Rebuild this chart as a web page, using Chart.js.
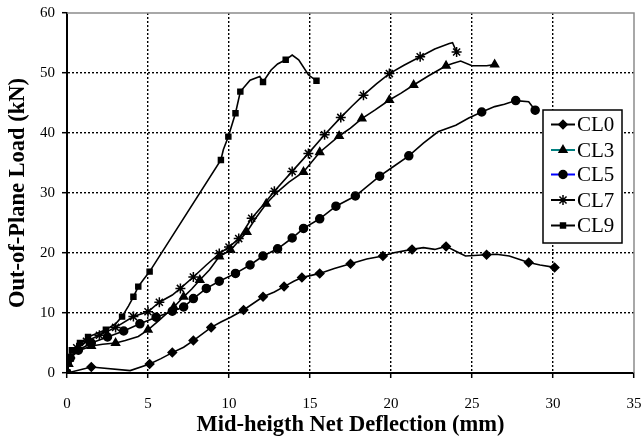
<!DOCTYPE html>
<html><head><meta charset="utf-8">
<script src="https://cdn.jsdelivr.net/npm/chart.js@4/dist/chart.umd.min.js"></script>
<style>html,body{margin:0;padding:0;background:#fff}</style>
</head><body>
<canvas id="c" width="644" height="441" style="display:block;width:644px;height:441px"></canvas>
<script>
const seriesNames = ['CL0','CL3','CL5','CL7','CL9'];
const xTickValues = [0,5,10,15,20,25,30,35];
const yTickValues = [0,10,20,30,40,50,60];

const CL0_x = [0,1.5,3.9,5.1,5.8,6.5,7.2,7.8,8.9,9.5,10.1,10.9,12.1,12.8,13.4,14.0,14.5,15.6,16.5,17.5,18.5,19.5,20.1,21.3,22.0,22.7,23.4,24.0,24.6,25.9,26.5,27.3,28.5,29.2,30.1];
const CL0_y = [0,1.0,0.4,1.5,2.4,3.4,4.3,5.4,7.6,8.5,9.3,10.5,12.7,13.5,14.4,15.3,15.9,16.6,17.4,18.2,19.0,19.5,20.0,20.6,20.9,20.6,21.1,20.3,19.5,19.7,19.8,19.5,18.4,18.0,17.6];
const CL0_m = [1,1,0,1,0,1,0,1,1,0,0,1,1,0,1,0,1,1,0,1,0,1,0,1,0,0,1,0,0,1,0,0,1,0,1];

const CL3_x = [0,0.1,0.3,0.8,1.5,2.2,3.0,3.6,4.4,5.0,5.7,6.6,7.2,7.7,8.2,8.8,9.4,10.1,10.6,11.1,11.7,12.3,13.0,13.7,14.6,15.6,16.8,17.5,18.2,19.0,19.9,20.6,21.4,22.3,23.4,23.8,24.3,25.0,25.9,26.4];
const CL3_y = [0,1.5,2.8,3.8,4.5,4.8,5.0,5.4,6.1,7.2,8.8,11.0,12.7,14.0,15.5,17.2,19.4,20.5,22.0,23.5,26.0,28.2,30.2,31.8,33.5,36.8,39.5,40.8,42.4,43.8,45.5,46.6,48.0,49.5,51.2,51.6,52.0,51.2,51.2,51.4];
const CL3_m = [1,1,0,0,1,0,1,0,0,1,0,1,1,0,1,0,1,1,0,1,0,1,0,0,1,1,1,0,1,0,1,0,1,0,1,0,0,0,0,1];

const CL5_x = [0,0.2,0.7,1.5,2.5,3.5,4.5,5.5,6.5,7.2,7.8,8.6,9.4,10.4,11.3,12.1,13.0,13.9,14.6,15.6,16.6,17.8,19.3,20.2,21.1,22.0,22.9,24.0,24.8,25.6,26.4,27.0,27.7,28.5,28.9];
const CL5_y = [0,2.5,3.8,5.0,6.0,7.0,8.2,9.3,10.3,11.0,12.4,14.1,15.3,16.6,18.0,19.5,20.7,22.5,24.1,25.7,27.8,29.5,32.8,34.5,36.2,38.3,40.2,41.3,42.5,43.5,44.4,44.8,45.4,45.2,43.8];
const CL5_m = [1,1,1,1,1,1,1,1,1,1,1,1,1,1,1,1,1,1,1,1,1,1,1,0,1,0,0,0,0,1,0,0,1,0,1];

const CL7_x = [0,0.2,0.6,1.2,2.0,3.0,4.1,5.0,5.7,6.5,7.0,7.8,8.6,9.4,10.0,10.6,11.4,12.2,12.8,13.9,14.9,15.9,16.9,17.6,18.3,19.1,19.9,20.8,21.8,22.7,23.6,23.8,24.05];
const CL7_y = [0,2.5,4.2,5.3,6.3,7.6,9.4,10.2,11.8,13.0,14.1,16.0,18.0,19.9,21.0,22.4,25.8,28.3,30.3,33.6,36.6,39.7,42.6,44.5,46.3,48.2,49.9,51.3,52.7,54.0,54.9,55.05,53.5];
const CL7_m = [1,1,1,1,1,1,1,1,1,0,1,1,0,1,1,1,1,0,1,1,1,1,1,0,1,0,1,0,1,0,0,0,1];

const CL9_x = [0,0.1,0.3,0.8,1.3,2.4,3.0,3.4,3.8,4.1,4.4,4.7,5.1,9.5,9.65,9.96,10.4,10.7,11.3,11.9,12.1,12.6,13.0,13.5,13.9,14.3,14.9,15.4];
const CL9_y = [0,2.0,3.8,5.0,6.0,7.2,8.2,9.4,11.2,12.7,14.4,15.5,16.9,35.5,37.2,39.4,43.3,46.9,48.8,49.4,48.5,50.5,51.5,52.2,53.0,52.2,49.7,48.7];
const CL9_m = [1,1,1,1,1,1,0,1,0,1,1,0,1,1,0,1,1,1,0,0,1,0,0,1,0,0,0,1];

const seriesX = [CL0_x, CL3_x, CL5_x, CL7_x, CL9_x];
const seriesY = [CL0_y, CL3_y, CL5_y, CL7_y, CL9_y];
const seriesM = [CL0_m, CL3_m, CL5_m, CL7_m, CL9_m];

const pointStyles = ['rectRot','triangle','circle','star','rect'];
const pointSizes = [4.2, 4.5, 4, 5, 3.5];
const legendLineColors = ['#000000','#008080','#0000ff','#000000','#000000'];

const datasets = seriesNames.map((name, i) => ({
  label: name,
  data: seriesX[i].map((x, j) => ({x: x, y: seriesY[i][j]})),
  showLine: true,
  borderColor: '#000',
  backgroundColor: '#000',
  borderWidth: 1.6,
  tension: 0,
  pointStyle: pointStyles[i],
  pointRadius: ctx => seriesM[i][ctx.dataIndex] ? pointSizes[i] : 0,
  pointHoverRadius: 0,
  pointBorderWidth: 1.5,
  pointBorderColor: '#000',
  pointBackgroundColor: '#000'
}));

const frame = {
  id: 'frame',
  beforeDatasetsDraw(chart) {
    const {ctx, chartArea: a} = chart;
    ctx.save();
    ctx.strokeStyle = '#8c8c8c';
    ctx.lineWidth = 1.5;
    ctx.beginPath();
    ctx.moveTo(a.left, a.top);
    ctx.lineTo(a.right, a.top);
    ctx.lineTo(a.right, a.bottom);
    ctx.stroke();
    ctx.restore();
  }
};

const legendBox = {
  id: 'legendBox',
  afterDraw(chart) {
    const ctx = chart.ctx;
    const bx = 543, by = 110, bw = 79, bh = 133;
    ctx.save();
    ctx.fillStyle = '#fff';
    ctx.fillRect(bx, by, bw, bh);
    ctx.strokeStyle = '#000';
    ctx.lineWidth = 1.5;
    ctx.strokeRect(bx, by, bw, bh);
    const ys = [124.5, 150, 174.5, 200, 225.5];
    seriesNames.forEach((name, i) => {
      const y = ys[i];
      ctx.strokeStyle = legendLineColors[i];
      ctx.lineWidth = 2;
      ctx.beginPath();
      ctx.moveTo(551, y);
      ctx.lineTo(575, y);
      ctx.stroke();
      ctx.fillStyle = '#000';
      ctx.strokeStyle = '#000';
      ctx.lineWidth = 1.5;
      Chart.helpers.drawPoint(ctx, {pointStyle: pointStyles[i], radius: pointSizes[i], rotation: 0, borderWidth: 1.5}, 563, y);
      ctx.fillStyle = '#000';
      ctx.font = '21px "Liberation Serif", "Times New Roman", serif';
      ctx.textBaseline = 'middle';
      ctx.textAlign = 'left';
      ctx.fillText(name, 577, y + 1);
    });
    ctx.restore();
  }
};

const tickFont = {family: '"Liberation Serif", "Times New Roman", serif', size: 15};
const titleFont = {family: '"Liberation Serif", "Times New Roman", serif', size: 22.5, weight: 'bold'};

new Chart(document.getElementById('c'), {
  type: 'scatter',
  data: {datasets},
  plugins: [frame, legendBox],
  options: {
    responsive: false,
    animation: false,
    events: [],
    layout: {padding: {left: 0, top: 13, right: 10, bottom: 0}},
    plugins: {legend: {display: false}, tooltip: {enabled: false}},
    scales: {
      x: {
        type: 'linear', min: 0, max: 35,
        afterBuildTicks: s => { s.ticks = xTickValues.map(v => ({value: v})); },
        afterFit: s => { s.height = 68; s.paddingLeft = 0; s.paddingRight = 0; },
        ticks: {font: tickFont, color: '#000', padding: 17, maxRotation: 0},
        grid: {color: c => c.index === xTickValues.length - 1 ? 'rgba(0,0,0,0)' : '#000', lineWidth: 1.4, tickColor: '#000', tickLength: 5, tickWidth: 1.5},
        border: {display: true, color: '#000', width: 2, dash: [2, 2]},
        title: {display: true, text: 'Mid-heigth Net Deflection (mm)', font: titleFont, color: '#000', padding: {top: 0, bottom: 2.5}}
      },
      y: {
        type: 'linear', min: 0, max: 60,
        afterBuildTicks: s => { s.ticks = yTickValues.map(v => ({value: v})); },
        afterFit: s => { s.width = 67; s.paddingTop = 0; s.paddingBottom = 0; },
        ticks: {font: tickFont, color: '#000', padding: 7},
        grid: {color: c => c.index === yTickValues.length - 1 ? 'rgba(0,0,0,0)' : '#000', lineWidth: 1.4, tickColor: '#000', tickLength: 5, tickWidth: 1.5},
        border: {display: true, color: '#000', width: 2, dash: [2, 2]},
        title: {display: true, text: 'Out-of-Plane Load (kN)', font: titleFont, color: '#000', padding: {top: 4.5, bottom: 0}}
      }
    }
  }
});
</script>
</body></html>
